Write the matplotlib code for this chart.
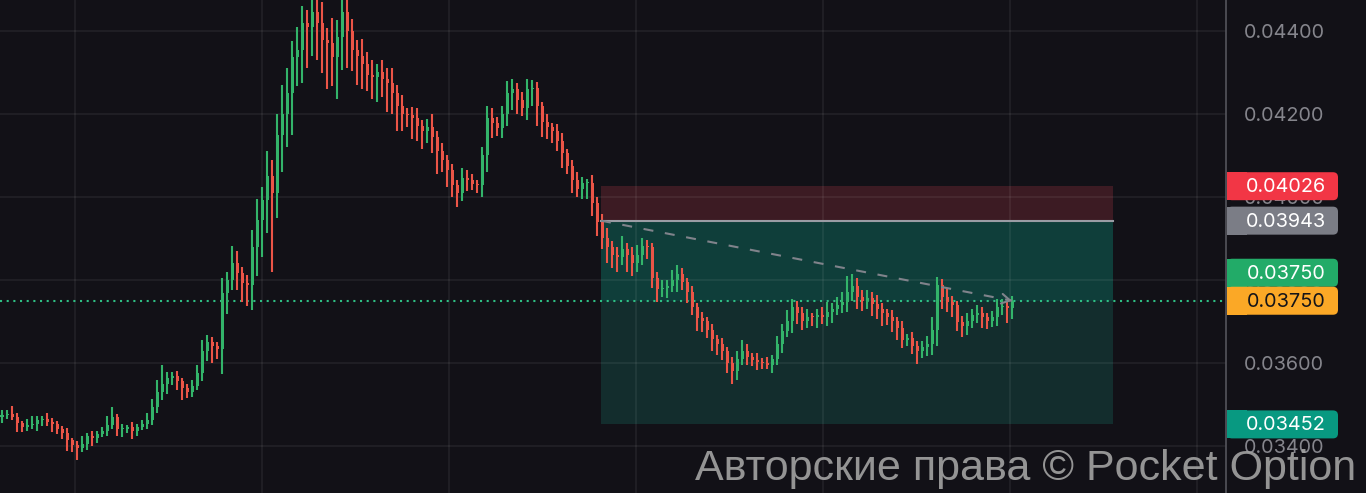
import matplotlib
matplotlib.use('Agg')
import matplotlib.pyplot as plt
import matplotlib.patches as mpatches
from matplotlib.transforms import IdentityTransform

# Candle data, prices in units of 0.00001 (open = previous close)
first_open = 3470
close_pts = [
    3475, 3478, 3470, 3455, 3446, 3450, 3452, 3462, 3465, 3458,
    3453, 3440, 3432, 3414, 3403, 3396, 3405, 3424, 3420, 3430,
    3436, 3451, 3470, 3440, 3442, 3445, 3437, 3446, 3452, 3462,
    3494, 3530, 3550, 3564, 3568, 3556, 3540, 3530, 3545, 3576,
    3630, 3650, 3640, 3634, 3769, 3800, 3841, 3817, 3793, 3788,
    3880, 3945, 3993, 4050, 4010, 4150, 4200, 4250, 4337, 4355,
    4420, 4410, 4445, 4420, 4378, 4371, 4337, 4386, 4445, 4400,
    4354, 4340, 4320, 4295, 4290, 4300, 4285, 4275, 4250, 4220,
    4200, 4198, 4190, 4170, 4160, 4169, 4145, 4110, 4090, 4065,
    4030, 4010, 4045, 4040, 4032, 4029, 4100, 4190, 4178, 4166,
    4200, 4250, 4260, 4234, 4215, 4260, 4262, 4220, 4180, 4169,
    4160, 4135, 4105, 4075, 4040, 4020, 4034, 4034, 3985, 3940,
    3900, 3880, 3860, 3855, 3875, 3860, 3840, 3860, 3882, 3880,
    3805, 3778, 3781, 3785, 3800, 3815, 3795, 3770, 3735, 3708,
    3700, 3680, 3658, 3645, 3628, 3600, 3580, 3610, 3630, 3615,
    3608, 3603, 3600, 3596, 3610, 3645, 3678, 3702, 3735, 3720,
    3700, 3711, 3710, 3716, 3710, 3722, 3730, 3740, 3747, 3770,
    3785, 3760, 3750, 3757, 3743, 3730, 3720, 3712, 3700, 3685,
    3656, 3660, 3642, 3628, 3638, 3645, 3680, 3788, 3760, 3747,
    3740, 3698, 3688, 3700, 3716, 3720, 3710, 3702, 3710, 3735,
    3738, 3732, 3750,
]
# wick lengths above / below the body (same units)
wick_up = [
    12, 8, 18, 10, 6, 15, 20, 10, 8, 14,
    10, 6, 8, 12, 5, 10, 18, 8, 12, 6,
    10, 22, 25, 8, 10, 6, 12, 8, 10, 18,
    20, 30, 45, 15, 10, 12, 8, 10, 15, 20,
    25, 18, 12, 10, 35, 20, 40, 30, 15, 20,
    40, 50, 30, 60, 40, 50, 70, 60, 40, 55,
    40, 30, 45, 40, 50, 30, 60, 40, 45, 30,
    30, 25, 40, 30, 35, 20, 30, 25, 35, 20,
    25, 15, 20, 25, 15, 20, 30, 15, 20, 10,
    15, 10, 25, 20, 15, 10, 20, 30, 25, 15,
    20, 30, 25, 15, 20, 25, 20, 15, 10, 20,
    10, 15, 20, 10, 15, 20, 15, 10, 20, 15,
    20, 25, 15, 20, 30, 15, 20, 25, 20, 15,
    10, 15, 20, 15, 25, 20, 15, 10, 15, 10,
    15, 10, 15, 10, 15, 10, 15, 20, 25, 15,
    10, 15, 10, 15, 10, 20, 15, 25, 20, 15,
    15, 20, 10, 15, 20, 25, 15, 20, 25, 40,
    30, 20, 15, 20, 15, 20, 15, 10, 15, 10,
    15, 10, 15, 10, 15, 20, 30, 20, 15, 20,
    15, 10, 15, 20, 15, 20, 15, 10, 15, 20,
    15, 10, 12,
]
wick_dn = [
    15, 10, 8, 22, 12, 10, 8, 16, 14, 10,
    20, 12, 15, 25, 18, 30, 10, 15, 20, 12,
    8, 12, 10, 15, 18, 10, 20, 12, 8, 10,
    12, 15, 20, 25, 18, 20, 30, 15, 12, 10,
    20, 25, 40, 25, 60, 50, 25, 40, 45, 50,
    60, 70, 90, 80, 190, 60, 90, 80, 100, 70,
    80, 100, 70, 90, 80, 110, 70, 100, 80, 90,
    50, 70, 60, 40, 55, 60, 45, 70, 50, 60,
    40, 30, 50, 35, 45, 30, 40, 55, 30, 40,
    30, 35, 20, 25, 15, 20, 30, 40, 35, 20,
    25, 30, 40, 35, 20, 30, 40, 50, 35, 30,
    30, 25, 35, 20, 30, 20, 25, 40, 30, 35,
    25, 40, 30, 35, 20, 40, 30, 20, 25, 30,
    25, 30, 20, 25, 15, 30, 20, 25, 20, 30,
    25, 20, 30, 25, 20, 25, 30, 20, 15, 20,
    15, 20, 15, 10, 20, 15, 20, 15, 30, 25,
    20, 15, 20, 25, 15, 20, 25, 15, 20, 25,
    20, 30, 25, 20, 30, 25, 30, 20, 25, 30,
    20, 15, 20, 30, 15, 20, 25, 40, 30, 25,
    30, 20, 25, 20, 15, 20, 25, 20, 15, 20,
    20, 35, 25,
]

# price scale gridlines and time gridlines (candle index)
grid_prices = [0.03400, 0.03600, 0.03800, 0.04000, 0.04200, 0.04400]
time_grid = [14.6, 52.0, 89.4, 126.8, 164.2, 201.6, 239.0]

# short position tool
stop_price = 0.04026
entry_price = 0.03943
current_price = 0.03750
target_price = 0.03452
box_start, box_end = 119.8, 222.2
trend_x = [119.8, 202.0]
trend_y = [0.03943, 0.03750]

bg = '#121117'
up_col = '#33b46a'
dn_col = '#eb5547'

fig = plt.figure(figsize=(13.66, 4.93), dpi=100, facecolor=bg)
ax = fig.add_axes([0, 0, 1226 / 1366, 1])
ax.set_facecolor(bg)

# build candles
opens, closes, highs, lows = [], [], [], []
prev = first_open
for c, u, d in zip(close_pts, wick_up, wick_dn):
    opens.append(prev / 1e5)
    closes.append(c / 1e5)
    highs.append((max(prev, c) + u) / 1e5)
    lows.append((min(prev, c) - d) / 1e5)
    prev = c
xs = list(range(len(closes)))
cols = [up_col if c >= o else dn_col for o, c in zip(opens, closes)]

ax.vlines(xs, lows, highs, colors=cols, linewidth=1.5, zorder=3)
bottoms = [min(o, c) for o, c in zip(opens, closes)]
heights = [max(abs(c - o), 0.00003) for o, c in zip(opens, closes)]
ax.bar(xs, heights, bottom=bottoms, width=0.6, color=cols, linewidth=0, zorder=3)

# position tool zones
ax.add_patch(mpatches.Rectangle((box_start, entry_price), box_end - box_start,
                                stop_price - entry_price, facecolor='#3c1b23', edgecolor='none', zorder=1))
ax.add_patch(mpatches.Rectangle((box_start, current_price), box_end - box_start,
                                entry_price - current_price, facecolor='#0f3e3a', edgecolor='none', zorder=1))
ax.add_patch(mpatches.Rectangle((box_start, target_price), box_end - box_start,
                                current_price - target_price, facecolor='#132d2d', edgecolor='none', zorder=1))
ax.plot([box_start, box_end], [entry_price, entry_price], color='#9a9ca4', lw=1.5, zorder=4)

# current price dotted line
ax.axhline(current_price, color='#2fbf84', lw=1.5, ls=(0, (1, 2.2)), zorder=2)

# dashed trend line with arrow head
ax.plot(trend_x, trend_y, color='#80838b', lw=1.5, ls=(0, (4.8, 5.6)), zorder=4)
ax.annotate('', xy=(trend_x[1], trend_y[1]),
            xytext=(trend_x[1] - 0.6, trend_y[1] + 0.6 * (trend_y[0] - trend_y[1]) / (trend_x[1] - trend_x[0])),
            arrowprops=dict(arrowstyle='->,head_length=0.6,head_width=0.35', color='#80838b',
                            lw=1.5, shrinkA=0, shrinkB=0), zorder=4)

# axes / grid
ax.set_xlim(-0.4, 244.8)
ax.set_ylim(0.032867, 0.044747)
ax.set_xticks(time_grid)
ax.set_yticks(grid_prices)
ax.set_yticklabels([f'{p:.5f}' for p in grid_prices])
ax.yaxis.tick_right()
ax.tick_params(axis='x', length=0, labelbottom=False)
ax.tick_params(axis='y', length=0, pad=13, labelsize=14.3, labelcolor='#85858c')
for lab in ax.get_yticklabels():
    lab.set_fontfamily(['Inter', 'DejaVu Sans'])
ax.set_axisbelow('line')
ax.grid(True, color='white', alpha=0.07, lw=1.2)
for s in ['top', 'left', 'bottom']:
    ax.spines[s].set_visible(False)
ax.spines['right'].set_color('#55555c')
ax.spines['right'].set_linewidth(1.2)

# price labels on the right scale
labels = [
    (stop_price, 0, '#f23645', 'white'),
    (entry_price, 0, '#7b7d86', 'white'),
    (current_price, 28, '#22ab68', 'white'),
    (current_price, 0, '#fba826', '#141418'),
    (target_price, 0, '#089981', 'white'),
]
for price, shift, fc, tc in labels:
    yp = ax.transData.transform((0, price))[1] + shift
    fig.add_artist(mpatches.FancyBboxPatch((1227, yp - 14), 111, 28, boxstyle='round,pad=0,rounding_size=5',
                                           facecolor=fc, edgecolor='none', transform=IdentityTransform(), zorder=5))
    fig.add_artist(mpatches.Rectangle((1227, yp - 14), 20, 28, facecolor=fc, edgecolor='none',
                                      transform=IdentityTransform(), zorder=5))
    fig.text(1286, yp - 1, f'{price:.5f}', color=tc, fontsize=14.3, family=['Inter', 'DejaVu Sans'],
             ha='center', va='center', transform=IdentityTransform(), zorder=6)

# watermark
fig.text(695, 13, 'Авторские права © Pocket Option', color='#a3a3a3', alpha=0.9, fontsize=31,
         family=['Liberation Sans', 'DejaVu Sans'], ha='left', va='baseline',
         transform=IdentityTransform(), zorder=7)

fig.savefig('out.png', dpi=100, facecolor=bg)
